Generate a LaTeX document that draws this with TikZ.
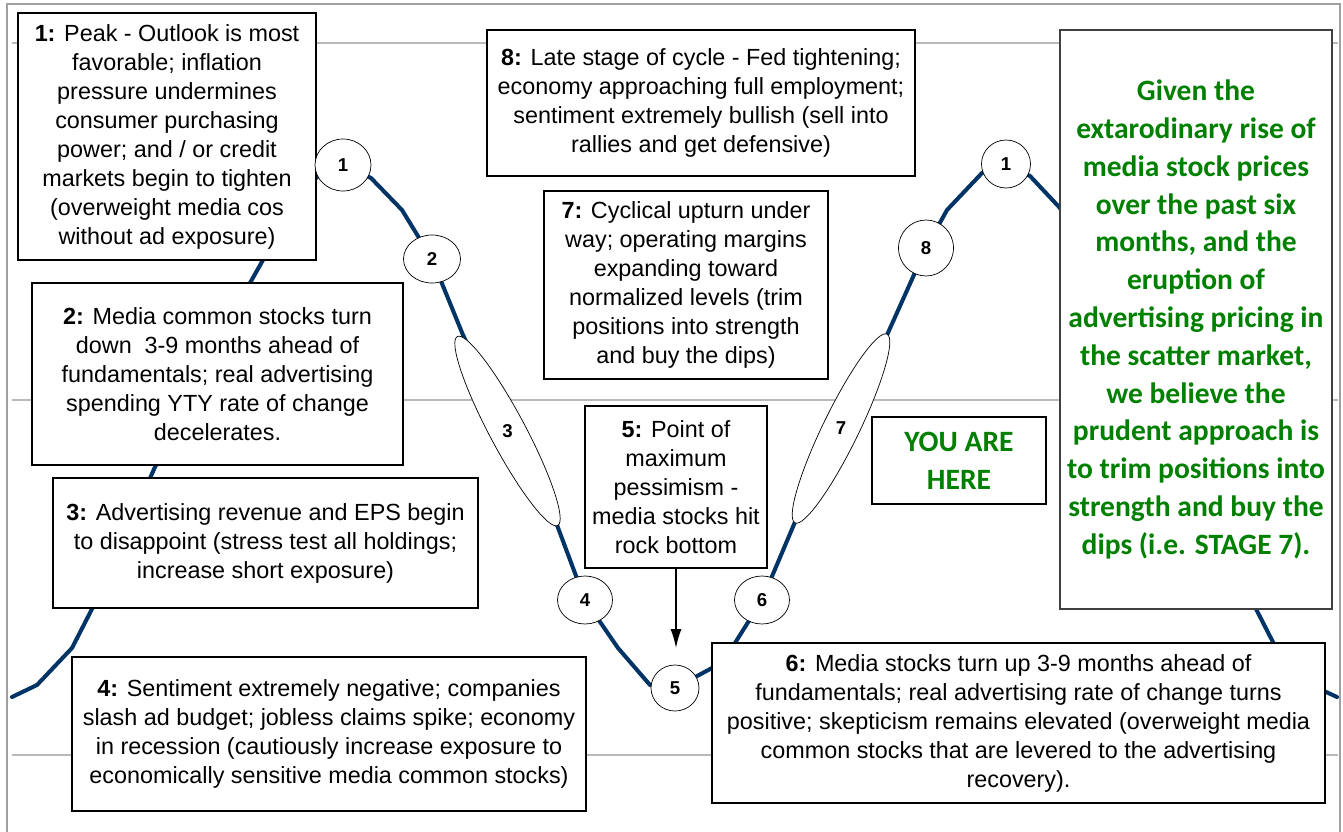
\documentclass[tikz,border=0pt]{standalone}
\usepackage{fontspec}
\setmainfont{Liberation Sans}
\newfontfamily\calibri{Carlito}
\usetikzlibrary{arrows.meta,shapes.geometric}

\definecolor{trendblue}{RGB}{0,51,102}
\definecolor{framegray}{RGB}{160,160,160}
\definecolor{rulegray}{RGB}{185,185,185}
\definecolor{advicegreen}{RGB}{0,128,0}

\begin{document}
\begin{tikzpicture}[
		x=0.02cm, y=-0.02cm,
		>=Latex,
		box/.style={
			draw,
			line width=0.7pt,
			fill=white,
			align=center,
			inner sep=0pt,
			font=\fontsize{13.3}{16.5}\selectfont
		},
		advice/.style={
			box,
			text=advicegreen,
			font=\calibri\bfseries\fontsize{16.8}{21.5}\selectfont
		},
		stage/.style={
			draw,
			ellipse,
			fill=white,
			inner sep=0pt,
			minimum width=1.1cm,
			minimum height=0.96cm,
			font=\fontsize{10.6}{12}\selectfont\bfseries
		},
		phase/.style={
			draw,
			ellipse,
			fill=white,
			inner sep=0pt,
			minimum width=4.28cm,
			minimum height=0.72cm
		},
		trend/.style={draw=trendblue, line width=2.3pt, line join=round, line cap=round},
		gridrule/.style={draw=rulegray, line width=0.6pt}
		]
		
		\useasboundingbox (0,0) rectangle (1343,832);
		
		% chart background
		\foreach \gy in {43,400,755}
			\draw[gridrule] (12,\gy) -- (1338,\gy);
		\draw[draw=framegray, line width=1.1pt] (7,4) rectangle (1340,845);
		
		% media stock cycle
		\draw[trend] (12,697) -- (37,685) -- (72,648) -- (93,607) -- (155,467) -- (250,283)
			-- (263,260) -- (288,208) -- (318,176) -- (343,165)
			-- (371,178) -- (402,210) -- (432,259) -- (463,335) -- (557,525) -- (585,600)
			-- (618,648) -- (650,685) -- (675,688) -- (712,668) -- (735,643) -- (762,600)
			-- (795,522) -- (887,335) -- (926,248) -- (947,210) -- (982,173) -- (1005,164)
			-- (1030,176) -- (1060,208) -- (1085,260) -- (1098,283) -- (1193,467)
			-- (1255,607) -- (1276,648) -- (1311,685) -- (1337,697);
		
		\node[box, minimum width=5.96cm, minimum height=4.94cm] (peak) at (167,136.5)
		{\textbf{1:} Peak - Outlook is most\\favorable; inflation\\pressure undermines\\consumer purchasing\\power; and / or credit\\markets begin to tighten\\(overweight media cos\\without ad exposure)};
		
		\node[box, minimum width=7.42cm, minimum height=3.64cm] (turndown) at (217.5,374)
		{\textbf{2:} Media common stocks turn\\down~ 3-9 months ahead of\\fundamentals; real advertising\\spending YTY rate of change\\decelerates.};
		
		\node[box, minimum width=8.5cm, minimum height=2.6cm] (disappoint) at (265.5,543)
		{\textbf{3:} Advertising revenue and EPS begin\\to disappoint (stress test all holdings;\\increase short exposure)};
		
		\node[box, minimum width=10.28cm, minimum height=3.08cm] (recession) at (329,734)
		{\textbf{4:} Sentiment extremely negative; companies\\slash ad budget; jobless claims spike; economy\\in recession (cautiously increase exposure to\\economically sensitive media common stocks)};
		
		\node[box, minimum width=3.64cm, minimum height=3.24cm] (trough) at (676,487)
		{\textbf{5:} Point of\\maximum\\pessimism -\\media stocks hit\\rock bottom};
		
		\node[box, minimum width=12.26cm, minimum height=3.2cm] (turnup) at (1018.5,723)
		{\textbf{6:} Media stocks turn up 3-9 months ahead of\\fundamentals; real advertising rate of change turns\\positive; skepticism remains elevated (overweight media\\common stocks that are levered to the advertising\\recovery).};
		
		\node[box, minimum width=5.68cm, minimum height=3.76cm] (upturn) at (686,285)
		{\textbf{7:} Cyclical upturn under\\way; operating margins\\expanding toward\\normalized levels (trim\\positions into strength\\and buy the dips)};
		
		\node[box, minimum width=8.56cm, minimum height=2.92cm] (latestage) at (701,103)
		{\textbf{8:} Late stage of cycle - Fed tightening;\\economy approaching full employment;\\sentiment extremely bullish (sell into\\rallies and get defensive)};
		
		\node[advice, minimum width=3.48cm, minimum height=1.74cm] (here) at (959,460.5)
		{YOU ARE\\HERE};
		
		\node[advice, draw=black!75, line width=0.9pt, minimum width=5.44cm, minimum height=11.58cm] (outlook) at (1196,319.5)
		{Given the\\extarodinary rise of\\media stock prices\\over the past six\\months, and the\\eruption of\\advertising pricing in\\the scatter market,\\we believe the\\prudent approach is\\to trim positions into\\strength and buy the\\dips (i.e. STAGE 7).};
		
		% stage markers on the curve
		\node[stage, minimum width=1.12cm, minimum height=1.04cm] (s1) at (343,165) {1};
		\node[stage, minimum width=1.14cm] (s2) at (432,259) {2};
		\node[phase, rotate=-62] (ph3) at (507.5,431) {};
		\node[font=\fontsize{10.6}{12}\selectfont\bfseries] (ph3num) at (ph3.center) {3};
		\node[stage] (s4) at (585,600) {4};
		\node[stage, minimum width=0.96cm, minimum height=0.92cm] (s5) at (675,688) {5};
		\node[stage] (s6) at (762,600) {6};
		\node[phase, rotate=64, minimum width=4.2cm] (ph7) at (841,428.5) {};
		\node[font=\fontsize{10.6}{12}\selectfont\bfseries] (ph7num) at (ph7.center) {7};
		\node[stage, minimum height=1.12cm] (s8) at (926,248) {8};
		\node[stage, minimum width=0.98cm] (s1b) at (1006,164) {1};
		
		\coordinate (dip) at (676,648);
		\draw[-{Latex[length=0.38cm,width=0.22cm]}, line width=0.8pt] (trough.south) -- (dip);
		
	\end{tikzpicture}
\end{document}
